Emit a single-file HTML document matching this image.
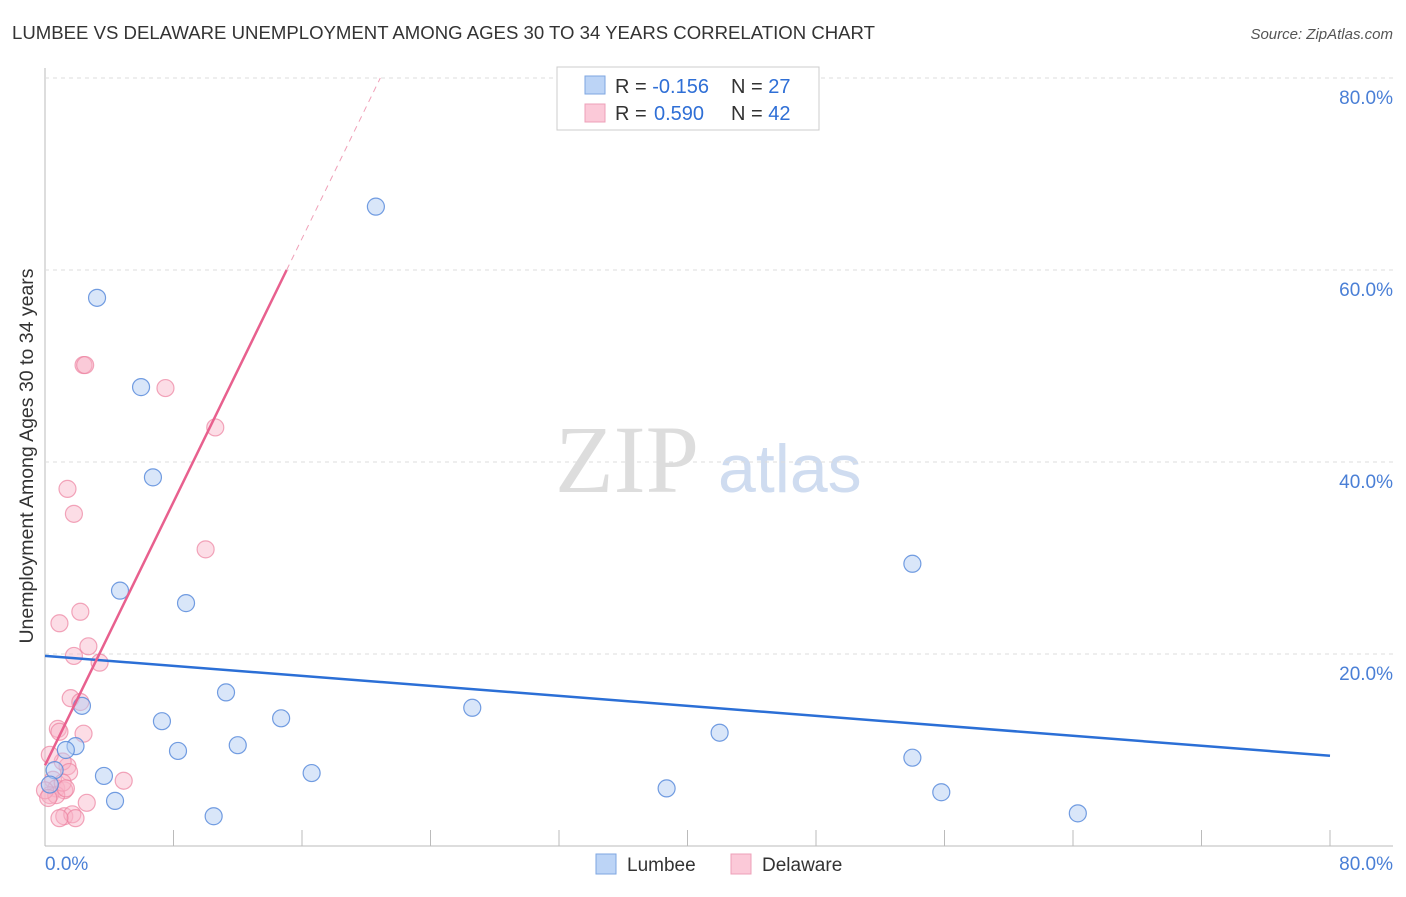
<!DOCTYPE html>
<html><head><meta charset="utf-8"><style>
body{margin:0;background:#fff;font-family:"Liberation Sans",sans-serif;}
svg text{font-family:"Liberation Sans",sans-serif;}
</style></head><body>
<svg id="c" width="1406" height="892">
<text x="12" y="39" font-size="18" fill="#333" textLength="863" lengthAdjust="spacingAndGlyphs">LUMBEE VS DELAWARE UNEMPLOYMENT AMONG AGES 30 TO 34 YEARS CORRELATION CHART</text>
<text x="1393" y="39" font-size="15" fill="#555" font-style="italic" text-anchor="end">Source: ZipAtlas.com</text>
<text x="33" y="456" font-size="19.5" fill="#333" text-anchor="middle" transform="rotate(-90 33 456)">Unemployment Among Ages 30 to 34 years</text>
<text x="555" y="492" font-size="96" fill="#ddd" style="font-family:'Liberation Serif',serif">ZIP</text>
<text x="718" y="492" font-size="68" fill="#cfdcf0">atlas</text>
<g id="grid"></g><g id="marks"></g><g id="lines"></g>
<g>
<rect x="557" y="67" width="262" height="63" fill="#fff" stroke="#ccc"/>
<rect x="585" y="76" width="20" height="18" fill="#bcd4f6" stroke="#7ea6e0"/>
<rect x="585" y="104" width="20" height="18" fill="#fbc9d8" stroke="#eea0b8"/>
<text x="615" y="93" font-size="20" fill="#333">R = <tspan fill="#2f6fd6">-0.156</tspan><tspan x="731">N = </tspan><tspan fill="#2f6fd6">27</tspan></text>
<text x="615" y="120" font-size="20" fill="#333">R = <tspan fill="#2f6fd6" x="654">0.590</tspan><tspan x="731">N = </tspan><tspan fill="#2f6fd6">42</tspan></text>
</g>
<g>
<rect x="596" y="854" width="20" height="20" fill="#bcd4f6" stroke="#7ea6e0"/>
<text x="627" y="871" font-size="19" fill="#333">Lumbee</text>
<rect x="731" y="854" width="20" height="20" fill="#fbc9d8" stroke="#eea0b8"/>
<text x="762" y="871" font-size="19" fill="#333">Delaware</text>
</g>
</svg>
<script>
const xTicks=[0,8,16,24,32,40,48,56,64,72,80];
const yTicks=[20,40,60,80];
const lumbeeX=[3.24,20.6,5.98,6.72,4.67,8.78,11.27,7.28,14.7,8.28,12.0,16.6,3.67,4.36,10.5,26.6,38.7,42.0,54.0,54.0,55.8,64.3,2.3,1.9,1.3,0.6,0.3];
const lumbeeY=[57.1,66.6,47.8,38.4,26.6,25.3,16.0,13.0,13.3,9.9,10.5,7.6,7.3,4.7,3.1,14.4,6.0,11.8,29.4,9.2,5.6,3.4,14.6,10.4,10.0,7.9,6.4];
const delX=[2.4,2.5,7.5,10.6,1.4,1.8,10.0,2.2,0.9,2.7,1.8,3.4,1.6,2.2,2.4,0.8,0.9,4.9,2.6,1.4,1.1,1.5,0.3,0.5,0.7,1.2,0.3,0.7,1.1,1.3,1.2,1.7,1.9,0.9,0,0.2];
const delY=[50.1,50.1,47.7,43.6,37.2,34.6,30.9,24.4,23.2,20.8,19.8,19.1,15.4,15.0,11.7,12.2,11.9,6.8,4.5,8.3,8.8,7.7,9.5,6.9,6.0,5.8,5.3,5.3,6.6,6.0,3.1,3.3,2.9,2.9,5.8,5.0];
const lumbeeTrend=[19.8,9.4];
const delTrend=[8.4,3.43];
const X=v=>45+v/80*1285, Y=v=>846-v/20*192;
const NS='http://www.w3.org/2000/svg';
function mk(p,t,a){const e=document.createElementNS(NS,t);for(const k in a)e.setAttribute(k,a[k]);p.appendChild(e);return e;}
const g=document.getElementById('grid'),m=document.getElementById('marks'),l=document.getElementById('lines');
const ax=mk(g,'line',{x1:45,y1:68,x2:45,y2:846,stroke:'#bbb'});


const bx=mk(g,'line',{x1:45,y1:846,x2:1393,y2:846,stroke:'#bbb'});


yTicks.forEach(v=>{
 const gl=mk(g,'line',{x1:45,y1:Y(v),x2:1393,y2:Y(v),stroke:'#ddd','stroke-dasharray':'4,4'});
 
 
 const t=mk(g,'text',{x:1393,y:Y(v)+26,'font-size':19,fill:'#4a7fd6','text-anchor':'end'});t.textContent=v.toFixed(1)+'%';
 
 
});
xTicks.forEach((v,i)=>{
 if(i>0){const tk=mk(g,'line',{x1:X(v),y1:830,x2:X(v),y2:846,stroke:'#bbb'});
 
 }
});
[[0,'start',45],[80,'end',1393]].forEach(([v,a,x])=>{
 const t=mk(g,'text',{x:x,y:870,'font-size':19,fill:'#4a7fd6','text-anchor':a});t.textContent=v.toFixed(1)+'%';
 
 
});
delX.forEach((x,i)=>{const c=mk(m,'circle',{cx:X(x),cy:Y(delY[i]),r:8.5,fill:'rgba(248,180,200,0.45)',stroke:'rgba(236,130,160,0.7)','stroke-width':1.2});
 
 });
lumbeeX.forEach((x,i)=>{const c=mk(m,'circle',{cx:X(x),cy:Y(lumbeeY[i]),r:8.5,fill:'rgba(180,206,244,0.5)',stroke:'rgba(90,140,220,0.85)','stroke-width':1.2});
 
 });
const bl=mk(l,'line',{x1:X(0),y1:Y(lumbeeTrend[0]),x2:X(80),y2:Y(lumbeeTrend[1]),stroke:'#2b6fd6','stroke-width':2.5});


const xs=(60-delTrend[0])/delTrend[1], xe=(80-delTrend[0])/delTrend[1];
const pl=mk(l,'line',{x1:X(0),y1:Y(delTrend[0]),x2:X(xs),y2:Y(60),stroke:'#e8608e','stroke-width':2.5});


const pd=mk(l,'line',{x1:X(xs),y1:Y(60),x2:X(xe),y2:Y(80),stroke:'#f0a0b8','stroke-width':1,'stroke-dasharray':'6,5'});


</script>
</body></html>
